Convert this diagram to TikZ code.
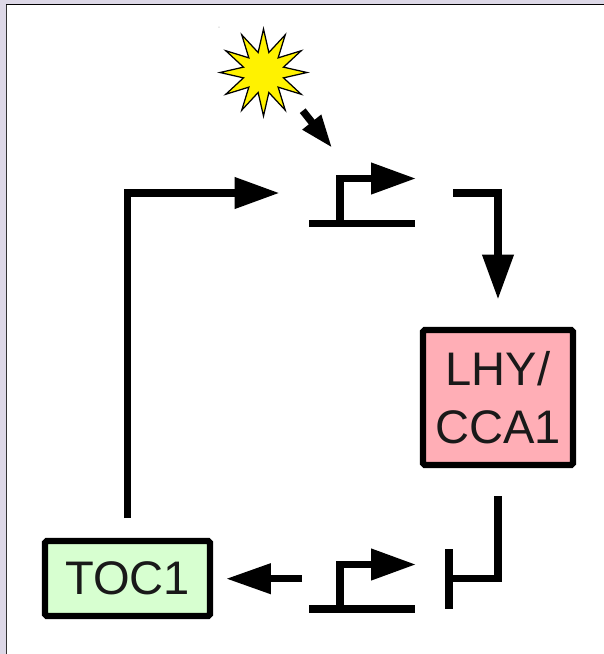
\documentclass[tikz,border=0pt]{standalone}
\usepackage{fontspec}
\setmainfont{Liberation Sans}
\usepackage{tikz}
\usetikzlibrary{arrows.meta}
\usetikzlibrary{shapes.geometric}

\definecolor{pagebg}{RGB}{221,216,231}
\definecolor{lhypink}{RGB}{255,174,182}
\definecolor{tocgreen}{RGB}{215,255,208}
\definecolor{inktext}{RGB}{25,25,25}

\begin{document}
\begin{tikzpicture}[x=0.02cm,y=-0.02cm,
	gene/.style={draw=black, line width=0.125cm, rounded corners=1pt, inner sep=0pt, align=center, text=inktext,
		font=\fontsize{26.8}{33.3}\selectfont},
	wire/.style={line width=0.148cm},
	act/.style={wire, -{Triangle[length=0.9cm,width=0.6cm]}},
	lightact/.style={line width=0.148cm, -{Triangle[length=0.66cm,width=0.44cm]}}]
	%% page
	\useasboundingbox (0,0) rectangle (604,654);
	\fill[pagebg] (0,0) rectangle (604,654);
	\fill[white] (6,4) rectangle (604,654);
	\draw[line width=0.03cm, black] (604,4.5) -- (6,4.5);
	\draw[line width=0.04cm, black!80] (6.5,4.5) -- (6.5,654);

	%% genes
	\node[gene, fill=lhypink, minimum width=3cm, minimum height=2.7cm] (lhy) at (498,397.5) {LHY/\\CCA1};
	\node[gene, fill=tocgreen, minimum width=3.3cm, minimum height=1.5cm] (toc) at (127.5,578.5) {TOC1};

	%% sun
	\node[star, star points=12, star point ratio=2.1, draw=black, line width=0.025cm, fill=yellow,
		minimum size=1.74cm, inner sep=0pt, outer sep=0pt] (sun) at (263.5,72.5) {};
	\fill[black!50] (219,27) circle (0.01cm);

	%% coordinates
	\coordinate (sunout) at (302.7,110.7);
	\coordinate (sunin) at (332.2,147.9);
	\coordinate (tocup) at (127.5,518);
	\coordinate (tocturn) at (127.5,193);
	\coordinate (topin) at (279.5,193);
	\coordinate (topbarl) at (309,223.5);
	\coordinate (topbarr) at (415,223.5);
	\coordinate (toproot) at (340,223.5);
	\coordinate (topbend) at (340,178.5);
	\coordinate (toptip) at (416,178.5);
	\coordinate (topout) at (453,193);
	\coordinate (topturn) at (498,193);
	\coordinate (lhyin) at (498,299.5);
	\coordinate (lhyout) at (498,496);
	\coordinate (inhturn) at (498,578.5);
	\coordinate (inhend) at (449,578.5);
	\coordinate (inhtop) at (449,549);
	\coordinate (inhbot) at (449,609);
	\coordinate (lowbarl) at (309,608.8);
	\coordinate (lowbarr) at (415,608.8);
	\coordinate (lowroot) at (340,608.8);
	\coordinate (lowbend) at (340,564.5);
	\coordinate (lowtip) at (416,564.5);
	\coordinate (lowout) at (302,578.7);
	\coordinate (tocin) at (226,578.7);

	%% light input
	\draw[lightact] (sunout) -- (sunin);

	%% TOC1 back to top promoter
	\draw[act] (tocup) -- (tocturn) -- (topin);

	%% top promoter
	\draw[wire] (topbarl) -- (topbarr);
	\draw[act] (toproot) -- (topbend) -- (toptip);
	\draw[act] (topout) -- (topturn) -- (lhyin);

	%% repression
	\draw[wire] (lhyout) -- (inhturn) -- (inhend);
	\draw[wire] (inhtop) -- (inhbot);

	%% lower promoter
	\draw[wire] (lowbarl) -- (lowbarr);
	\draw[act] (lowroot) -- (lowbend) -- (lowtip);
	\draw[wire, -{Triangle[length=0.9cm,width=0.58cm]}] (lowout) -- (tocin);
\end{tikzpicture}
\end{document}
